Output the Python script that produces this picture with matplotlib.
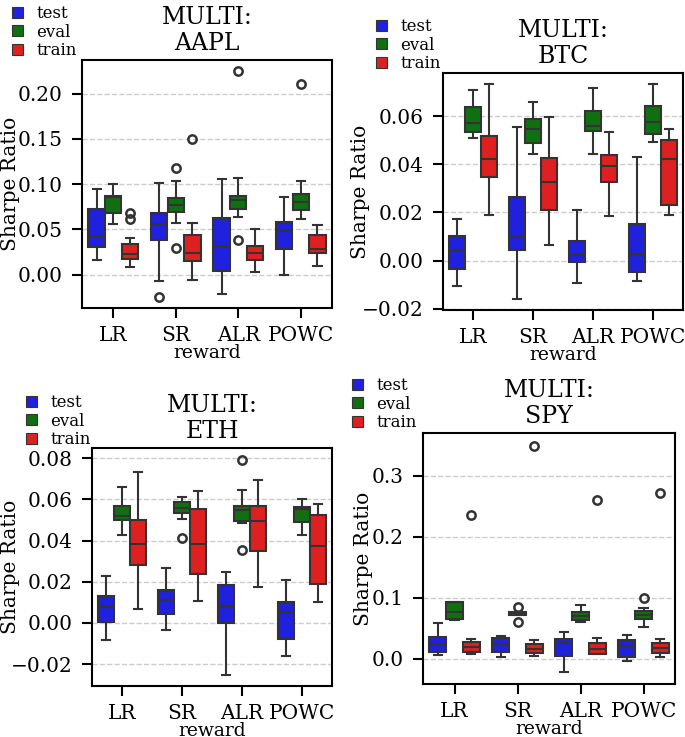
import matplotlib
matplotlib.use("Agg")
import matplotlib.pyplot as plt
from matplotlib.patches import Patch

plt.rcParams['font.family'] = ['DejaVu Serif']

rewards = ['LR', 'SR', 'ALR', 'POWC']
splits = ['test', 'eval', 'train']
colors = ['#2020df', '#107010', '#df2020']

# per reward: (whislo, q1, med, q3, whishi)
aapl_test = [(0.0158, 0.0302, 0.0431, 0.0726, 0.0943),
             (-0.0070, 0.0379, 0.0556, 0.0681, 0.1017),
             (-0.0210, 0.0037, 0.0320, 0.0626, 0.1053),
             (-0.0007, 0.0280, 0.0479, 0.0586, 0.0862)]
aapl_eval = [(0.0556, 0.0685, 0.0855, 0.0869, 0.1006),
             (0.0575, 0.0692, 0.0770, 0.0847, 0.1039),
             (0.0641, 0.0729, 0.0825, 0.0869, 0.1064),
             (0.0615, 0.0715, 0.0803, 0.0888, 0.1035)]
aapl_train = [(0.0081, 0.0169, 0.0228, 0.0343, 0.0401),
              (-0.0059, 0.0147, 0.0236, 0.0435, 0.0575),
              (0.0029, 0.0162, 0.0239, 0.0320, 0.0501),
              (0.0092, 0.0243, 0.0287, 0.0442, 0.0549)]
aapl_fliers = {'test': [[], [-0.0247], [], []],
               'eval': [[], [0.1175, 0.0291], [0.2247, 0.0387], [0.2107]],
               'train': [[0.0678, 0.0611], [0.1503], [], []]}

btc_test = [(-0.0106, -0.0033, 0.0044, 0.0101, 0.0171),
            (-0.0161, 0.0043, 0.0098, 0.0266, 0.0556),
            (-0.0094, -0.0004, 0.0025, 0.0081, 0.0210),
            (-0.0083, -0.0048, 0.0028, 0.0154, 0.0432)]
btc_eval = [(0.0510, 0.0535, 0.0572, 0.0637, 0.0710),
            (0.0444, 0.0490, 0.0548, 0.0586, 0.0659),
            (0.0444, 0.0537, 0.0561, 0.0621, 0.0717),
            (0.0494, 0.0526, 0.0575, 0.0640, 0.0734)]
btc_train = [(0.0190, 0.0348, 0.0421, 0.0517, 0.0734),
             (0.0066, 0.0211, 0.0326, 0.0425, 0.0596),
             (0.0185, 0.0326, 0.0394, 0.0437, 0.0532),
             (0.0190, 0.0233, 0.0421, 0.0502, 0.0548)]
btc_fliers = {'test': [[], [], [], []],
              'eval': [[], [], [], []],
              'train': [[], [], [], []]}

eth_test = [(-0.0084, 0.0006, 0.0078, 0.0133, 0.0228),
            (-0.0034, 0.0042, 0.0110, 0.0159, 0.0269),
            (-0.0251, 0.0002, 0.0084, 0.0186, 0.0246),
            (-0.0160, -0.0076, 0.0055, 0.0100, 0.0209)]
eth_eval = [(0.0426, 0.0498, 0.0518, 0.0570, 0.0660),
            (0.0506, 0.0534, 0.0557, 0.0587, 0.0612),
            (0.0484, 0.0497, 0.0549, 0.0568, 0.0646),
            (0.0426, 0.0489, 0.0553, 0.0565, 0.0602)]
eth_train = [(0.0070, 0.0282, 0.0385, 0.0502, 0.0733),
             (0.0105, 0.0236, 0.0385, 0.0552, 0.0642),
             (0.0173, 0.0348, 0.0495, 0.0568, 0.0696),
             (0.0102, 0.0191, 0.0375, 0.0523, 0.0579)]
eth_fliers = {'test': [[], [], [], []],
              'eval': [[], [0.0411], [0.0793, 0.0356], []],
              'train': [[], [], [], []]}

spy_test = [(0.0055, 0.0104, 0.0240, 0.0355, 0.0585),
            (0.0022, 0.0104, 0.0240, 0.0339, 0.0372),
            (-0.0213, 0.0038, 0.0251, 0.0328, 0.0443),
            (-0.0038, 0.0022, 0.0213, 0.0311, 0.0383)]
spy_eval = [(0.0634, 0.0656, 0.0765, 0.0929, 0.0935),
            (0.0716, 0.0721, 0.0743, 0.0760, 0.0765),
            (0.0601, 0.0639, 0.0699, 0.0760, 0.0874),
            (0.0525, 0.0656, 0.0721, 0.0776, 0.0831)]
spy_train = [(0.0077, 0.0115, 0.0191, 0.0268, 0.0317),
             (0.0038, 0.0087, 0.0158, 0.0235, 0.0301),
             (0.0071, 0.0071, 0.0164, 0.0262, 0.0344),
             (0.0027, 0.0098, 0.0175, 0.0251, 0.0328)]
spy_fliers = {'test': [[], [], [], []],
              'eval': [[], [0.0842, 0.0607], [], [0.0989]],
              'train': [[0.236], [0.349], [0.2596], [0.2710]]}

# name, stats, fliers, axes box px (left, top, right, bottom), ylim, yticks,
# legend anchor px, ylabel x (axes fraction)
panels = [
    ('AAPL', [aapl_test, aapl_eval, aapl_train], aapl_fliers,
     (82, 60, 332, 308), (-0.0368, 0.2372), [0, 0.05, 0.10, 0.15, 0.20], (12, 5), -0.248),
    ('BTC', [btc_test, btc_eval, btc_train], btc_fliers,
     (443, 73, 683, 310), (-0.0205, 0.0779), [-0.02, 0, 0.02, 0.04, 0.06], (376, 18), -0.304),
    ('ETH', [eth_test, eth_eval, eth_train], eth_fliers,
     (92, 448, 332, 686), (-0.0306, 0.085), [-0.02, 0, 0.02, 0.04, 0.06, 0.08], (26, 394), -0.30),
    ('SPY', [spy_test, spy_eval, spy_train], spy_fliers,
     (423, 433, 675, 684), (-0.0415, 0.370), [0, 0.1, 0.2, 0.3], (352, 377), -0.198),
]

W, H = 685, 737
fig = plt.figure(figsize=(W / 100, H / 100), dpi=100)
edge = '#333333'
box_w = 0.8 / 3

for name, series, fliers, (l, t, r, b), ylim, yticks, (lx, ly), ylx in panels:
    ax = fig.add_axes([l / W, 1 - b / H, (r - l) / W, (b - t) / H])
    for j, split in enumerate(splits):
        stats = []
        for i, s in enumerate(series[j]):
            stats.append(dict(whislo=s[0], q1=s[1], med=s[2], q3=s[3], whishi=s[4],
                              fliers=fliers[split][i]))
        pos = [i + (j - 1) * box_w for i in range(len(rewards))]
        ax.bxp(stats, positions=pos, widths=box_w * 0.98, patch_artist=True,
               boxprops=dict(facecolor=colors[j], edgecolor=edge, linewidth=1.5),
               medianprops=dict(color=edge, linewidth=1.5),
               whiskerprops=dict(color=edge, linewidth=1.5),
               capprops=dict(color=edge, linewidth=1.5),
               flierprops=dict(marker='o', markerfacecolor='none', markeredgecolor=edge,
                               markersize=6, markeredgewidth=1.8))
    ax.set_xlim(-0.5, len(rewards) - 0.5)
    ax.set_ylim(*ylim)
    ax.set_xticks(range(len(rewards)))
    ax.set_xticklabels(rewards)
    ax.set_yticks(yticks)
    ax.tick_params(labelsize=14.5, length=7, width=1.5)
    ax.tick_params(axis='x', pad=6)
    ax.tick_params(axis='y', pad=7)
    ax.yaxis.grid(True, linestyle='--', color='#cccccc', linewidth=1)
    ax.set_axisbelow(True)
    for sp in ax.spines.values():
        sp.set_linewidth(1.5)
        sp.set_color('black')
    ax.set_xlabel('reward', fontsize=13.5)
    ax.xaxis.set_label_coords(0.5, -36 / (b - t))
    ax.set_ylabel('Sharpe Ratio', fontsize=14.5)
    ax.yaxis.set_label_coords(ylx, 0.5)
    ax.set_title('MULTI:\n' + name, fontsize=17, pad=7)
    handles = [Patch(facecolor=c, edgecolor=edge, linewidth=0.8, label=s)
               for c, s in zip(colors, splits)]
    fig.legend(handles=handles, loc='upper left', bbox_to_anchor=(lx / W, 1 - ly / H),
               frameon=False, fontsize=12, borderaxespad=0, borderpad=0,
               handlelength=0.65, handleheight=0.65, handletextpad=0.8, labelspacing=0.1)

fig.savefig('out.png', dpi=100)
